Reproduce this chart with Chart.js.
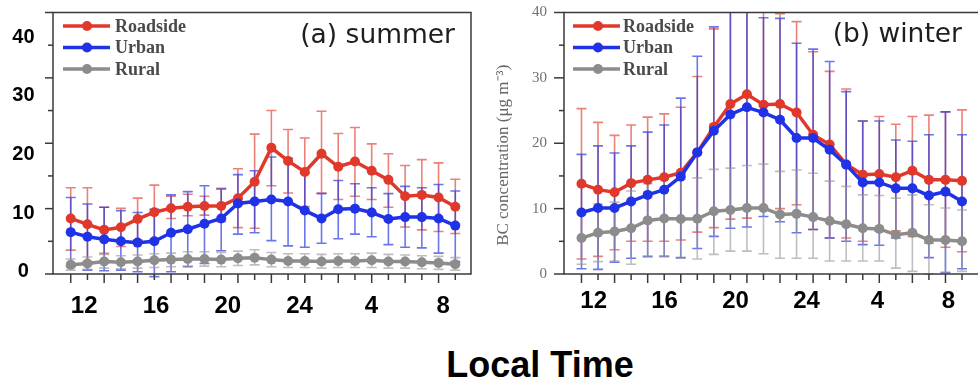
<!DOCTYPE html>
<html><head><meta charset="utf-8">
<script src="https://cdn.jsdelivr.net/npm/chart.js@4"></script>
<style>
html,body{margin:0;padding:0;background:#fff;overflow:hidden}
#wrap{position:relative;width:978px;height:383px;overflow:hidden;background:#fff}
#cs{position:absolute;left:0;top:0}
#cw{position:absolute;left:490px;top:0}
#lt{position:absolute;left:290px;width:500px;top:347px;text-align:center;font:bold 36px 'Liberation Sans',Arial,sans-serif;line-height:36px;color:#000}
</style></head><body>
<div id="wrap">
<canvas id="cs" width="490" height="330"></canvas>
<canvas id="cw" width="500" height="330"></canvas>
<div id="lt">Local Time</div>
</div>
<script>
// ---- categories (local hour) ----
const hours = ['12','13','14','15','16','17','18','19','20','21','22','23','24','1','2','3','4','5','6','7','8','9','10','11'];
const xTickIdx = [0,4,8,12,16,20];
const yTickVals = [0,10,20,30,40];
const seriesNames = ['Roadside','Urban','Rural'];

// ---- summer ----
const sumRoad    = [8.5,7.6,6.75,7.15,8.4,9.45,10.05,10.3,10.4,10.4,11.6,14.1,19.3,17.3,15.6,18.4,16.4,17.2,15.8,14.4,11.9,12.1,11.7,10.3];
const sumRoadUp  = [13.2,13.2,10.2,10.05,11.6,13.6,11.9,12.2,11.9,13.1,16.1,21.4,25.0,22.1,20.8,24.9,21.5,22.4,19.9,18.4,16.6,17.5,17.0,14.5];
const sumRoadLo  = [3.65,1.9,3.15,4.2,5.2,5.3,8.5,8.9,9.0,8.0,7.1,7.0,13.5,12.4,10.3,12.4,11.4,11.9,11.4,10.2,7.2,6.75,6.5,6.2];
const sumUrb     = [6.4,5.7,5.3,5.0,4.8,5.0,6.3,6.85,7.7,8.5,10.8,11.1,11.4,11.1,9.7,8.5,9.9,10.0,9.4,8.4,8.7,8.7,8.5,7.4];
const sumUrbUp   = [11.7,10.7,10.2,9.7,9.4,9.9,12.1,12.6,13.5,13.0,15.2,15.8,17.9,17.7,15.4,12.3,14.3,13.8,13.2,12.3,13.4,13.2,13.7,12.7];
const sumUrbLo   = [1.1,0.6,0.5,0.6,0.35,-0.4,0.35,1.1,1.6,3.55,6.1,6.3,5.1,4.3,4.1,4.7,5.4,6.1,5.7,4.5,4.1,4.0,3.2,1.9];
const sumRur     = [1.4,1.6,1.9,1.8,1.9,2.1,2.2,2.3,2.3,2.2,2.4,2.5,2.2,2.0,2.0,1.9,2.0,2.0,2.1,1.9,1.9,1.8,1.7,1.5];
const sumRurUp   = [2.3,2.6,3.0,2.8,2.9,3.1,3.2,3.4,3.4,3.3,3.5,3.7,3.3,3.1,3.1,3.0,3.1,3.1,3.2,3.0,2.9,2.8,2.7,2.5];
const sumRurLo   = [0.6,0.7,0.9,0.8,0.9,1.0,1.1,1.2,1.2,1.1,1.3,1.4,1.1,1.0,1.0,0.9,1.0,1.0,1.0,0.9,0.9,0.8,0.7,0.6];

// ---- winter ----
const winRoad    = [13.8,12.9,12.5,13.9,14.4,14.8,15.5,18.6,22.5,26.0,27.5,25.9,26.0,24.7,21.3,19.8,16.8,15.2,15.3,14.8,15.8,14.4,14.4,14.25];
const winRoadUp  = [25.3,23.2,21.2,22.8,24.0,24.5,25.5,30.2,37.5,44,46,40.3,39.8,38.6,34.0,31.0,28.3,23.4,24.1,22.9,24.1,24.3,24.8,25.1];
const winRoadLo  = [2.3,2.7,3.7,5.0,5.0,5.0,5.2,6.4,7.1,8.4,8.55,10.0,10.0,10.6,6.8,5.5,5.5,5.0,6.6,6.6,5.75,4.7,4.1,3.4];
const winUrb     = [9.4,10.1,10.1,11.1,12.1,12.9,14.9,18.6,21.9,24.4,25.5,24.7,23.6,20.8,20.8,19.0,16.7,14.0,14.0,13.1,13.1,12.0,12.6,11.1];
const winUrbUp   = [18.3,19.6,18.5,19.6,21.7,22.8,26.9,33.3,37.8,42,45,39.2,39.1,35.3,34.4,32.5,27.9,23.4,23.4,20.5,20.3,21.3,24.8,21.3];
const winUrbLo   = [0.8,0.7,1.8,2.4,2.7,2.7,2.5,3.9,5.75,7.0,7.2,8.8,8.0,6.3,6.8,5.5,5.0,4.5,4.4,5.5,6.1,2.5,0.2,0.8];
const winRur     = [5.5,6.3,6.5,7.0,8.2,8.5,8.4,8.45,9.6,9.8,10.1,10.1,9.1,9.2,8.7,8.1,7.6,7.0,6.9,6.0,6.3,5.2,5.2,5.0];
const winRurUp   = [9.5,10.7,11.0,12.7,13.8,14.5,14.5,14.7,16.0,16.2,16.6,16.8,15.7,15.9,15.4,14.2,13.4,12.1,12.0,11.6,12.1,10.6,10.1,9.8];
const winRurLo   = [1.5,1.9,2.0,1.5,2.6,2.7,2.4,2.3,3.0,3.5,3.5,3.1,2.4,2.4,2.4,2.0,2.0,2.0,2.0,0.9,0.4,0.0,0.3,0.4];

const COL = ['#e0382b','#1f32e6','#8c8c8c'];
const ERR = ['rgba(226,70,58,0.68)','rgba(35,55,225,0.68)','rgba(150,150,150,0.62)'];

function mkDatasets(means, ups, los){
  return means.map((m,k)=>({
    label: seriesNames[k],
    data: m.map((v,i)=>({x:i,y:v})),
    errUp: ups[k], errLo: los[k], errColor: ERR[k],
    borderColor: COL[k], backgroundColor: COL[k],
    pointBackgroundColor: COL[k], pointBorderColor: COL[k],
    borderWidth: 3.5, pointRadius: 5, pointBorderWidth: 0,
    xAxisID:'x', yAxisID:'y', order: 3-k, tension:0
  }));
}

const deco = {
  id:'deco',
  beforeDatasetsDraw(chart, args, o){
    const {ctx, chartArea:a, scales:{x,y}} = chart;
    ctx.save();
    ctx.beginPath(); ctx.rect(a.left, a.top, a.right-a.left, a.bottom-a.top+4); ctx.clip();
    chart.data.datasets.forEach(ds=>{
      ctx.strokeStyle = ds.errColor; ctx.lineWidth = 1.6;
      ds.data.forEach((p,i)=>{
        const px = x.getPixelForValue(p.x);
        const yu = y.getPixelForValue(ds.errUp[i]), yl = y.getPixelForValue(ds.errLo[i]);
        ctx.beginPath();
        ctx.moveTo(px,yu); ctx.lineTo(px,yl);
        ctx.moveTo(px-5,yu); ctx.lineTo(px+5,yu);
        ctx.moveTo(px-5,yl); ctx.lineTo(px+5,yl);
        ctx.stroke();
      });
    });
    ctx.restore();
  },
  afterDatasetsDraw(chart, args, o){
    const {ctx, chartArea:a, scales:{x,y}} = chart;
    ctx.save();
    // frame
    ctx.strokeStyle = '#3a3a3a'; ctx.lineWidth = 1.5;
    ctx.strokeRect(a.left, a.top, a.right-a.left, a.bottom-a.top);
    // y ticks (outward)
    for (let v=0; v<=40; v+=5){
      const py = y.getPixelForValue(v);
      const len = (v%10===0) ? o.yMajor : 5;
      ctx.beginPath(); ctx.moveTo(a.left-len, py); ctx.lineTo(a.left, py); ctx.stroke();
    }
    // x ticks (outward)
    hours.forEach((h,i)=>{
      const px = x.getPixelForValue(i);
      const len = (i%2===0) ? 9 : 6;
      ctx.beginPath(); ctx.moveTo(px, a.bottom); ctx.lineTo(px, a.bottom+len); ctx.stroke();
    });
    // legend
    const L = o.legend;
    chart.data.datasets.forEach((ds,k)=>{
      const yy = a.top + L.y0 + k*L.dy;
      ctx.strokeStyle = ds.borderColor; ctx.lineWidth = 3.5;
      ctx.beginPath(); ctx.moveTo(a.left+L.x0, yy); ctx.lineTo(a.left+L.x1, yy); ctx.stroke();
      ctx.fillStyle = ds.borderColor;
      ctx.beginPath(); ctx.arc(a.left+L.mx, yy, 5, 0, Math.PI*2); ctx.fill();
      ctx.fillStyle = '#4a4a4a';
      ctx.font = "bold 18px 'Liberation Serif','Times New Roman',serif";
      ctx.textAlign = 'left'; ctx.textBaseline = 'middle';
      ctx.fillText(ds.label, a.left+L.tx, yy+1);
    });
    // panel title
    ctx.fillStyle = '#1e1e1e';
    ctx.font = "26.5px 'DejaVu Sans',sans-serif";
    ctx.textAlign = 'right'; ctx.textBaseline = 'alphabetic';
    ctx.fillText(o.title, a.right - o.titleDx, a.top + o.titleDy);
    // rotated y title
    if (o.yTitle){
      ctx.translate(o.yTitle.x, (a.top+a.bottom)/2 + o.yTitle.dy);
      ctx.rotate(-Math.PI/2);
      ctx.fillStyle = '#666';
      ctx.font = "17px 'Liberation Serif','Times New Roman',serif";
      ctx.textAlign = 'center'; ctx.textBaseline = 'middle';
      ctx.fillText(o.yTitle.text, 0, 0);
    }
    ctx.restore();
  }
};

function noPad(s){ s.paddingTop = 0; s.paddingBottom = 0; s.paddingLeft = 0; s.paddingRight = 0; }

function labelAxisX(min, max, pad){
  return {
    type:'linear', position:'bottom', min, max,
    grid:{display:false, drawTicks:false}, border:{display:false},
    afterBuildTicks: s => { s.ticks = xTickIdx.map(v=>({value:v})); },
    afterFit: s => { s.height = 56; noPad(s); },
    ticks:{
      autoSkip:false, maxRotation:0, minRotation:0, padding:pad, color:'#000',
      font:{family:"'Liberation Sans',Arial,sans-serif", size:24, weight:'bold'},
      callback: v => hours[v]
    }
  };
}

// ---- summer chart ----
new Chart(document.getElementById('cs'), {
  type:'line',
  data:{ datasets: mkDatasets([sumRoad,sumUrb,sumRur],[sumRoadUp,sumUrbUp,sumRurUp],[sumRoadLo,sumUrbLo,sumRurLo]) },
  options:{
    responsive:false, animation:false, events:[],
    layout:{padding:{top:12.5, right:19, left:0, bottom:0}},
    plugins:{
      legend:{display:false}, tooltip:{enabled:false},
      deco:{ yMajor:8, title:'(a) summer', titleDx:16, titleDy:30.5,
             legend:{x0:10, x1:57, mx:34, tx:62, y0:13.5, dy:21.5} }
    },
    scales:{
      x:{type:'linear', min:-1.06, max:23.94, display:false},
      y:{type:'linear', min:0, max:40, display:false},
      xl: labelAxisX(-1.738, 21.55, 18),
      yl:{
        type:'linear', position:'left', min:-0.39, max:44.18,
        grid:{display:false, drawTicks:false}, border:{display:false},
        afterBuildTicks: s => { s.ticks = yTickVals.map(v=>({value:v})); },
        afterFit: s => { s.width = 53; noPad(s); },
        ticks:{ crossAlign:'center', padding:18.5, color:'#000',
          font:{family:"'Liberation Sans',Arial,sans-serif", size:20, weight:'bold'} }
      }
    }
  },
  plugins:[deco]
});

// ---- winter chart ----
new Chart(document.getElementById('cw'), {
  type:'line',
  data:{ datasets: mkDatasets([winRoad,winUrb,winRur],[winRoadUp,winUrbUp,winRurUp],[winRoadLo,winUrbLo,winRurLo]) },
  options:{
    responsive:false, animation:false, events:[],
    layout:{padding:{top:12.5, right:0, left:0, bottom:0}},
    plugins:{
      legend:{display:false}, tooltip:{enabled:false},
      deco:{ yMajor:10, title:'(b) winter', titleDx:23, titleDy:29.5,
             legend:{x0:9, x1:56, mx:34, tx:59, y0:13.5, dy:21.5},
             yTitle:{text:'BC concentration (μg m⁻³)', x:14, dy:12} }
    },
    scales:{
      x:{type:'linear', min:-1.057, max:24.39, display:false},
      y:{
        type:'linear', position:'left', min:0, max:40,
        grid:{display:false, drawTicks:false}, border:{display:false},
        afterBuildTicks: s => { s.ticks = yTickVals.map(v=>({value:v})); },
        afterFit: s => { s.width = 74; noPad(s); },
        ticks:{ padding:17, color:'#707070',
          font:{family:"'Liberation Serif','Times New Roman',serif", size:15} }
      },
      xl: labelAxisX(-1.671, 22.06, 13)
    }
  },
  plugins:[deco]
});
</script>
</body></html>
